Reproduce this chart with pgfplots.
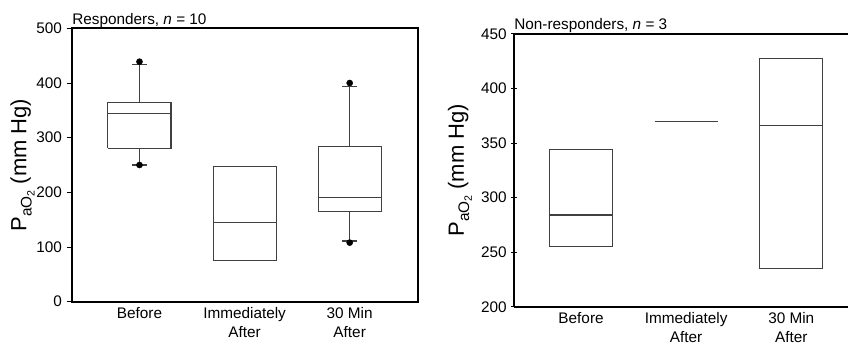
\documentclass[border=0pt]{standalone}
\usepackage{pgfplots}
\pgfplotsset{compat=1.18}
\usepackage{fontspec}
\setmainfont{Liberation Sans}
\definecolor{boxgray}{HTML}{404040}
\newcommand{\pao}{P\raisebox{-0.45ex}{\fontsize{11.5}{11.5}\selectfont aO\raisebox{-0.35ex}{\fontsize{8}{8}\selectfont 2}}}
\begin{document}
\begin{tikzpicture}
\useasboundingbox (0,0) rectangle (636pt,257.25pt);
\pgfplotsset{
  mystyle/.style={
    scale only axis,
    anchor=south west,
    /pgf/number format/assume math mode=true,
    font=\fontsize{11.5}{14.25}\selectfont,
    ticklabel style={font=\fontsize{11.5}{14.25}\selectfont},
    xtick={1,2,3},
    xticklabels={Before, Immediately\\After, 30 Min\\After},
    xticklabel style={align=center, yshift=3pt},
    x tick style={draw=none},
    y tick style={line width=0.6pt, black},
    ytick pos=left,
    tick align=outside,
    major tick length=4pt,
    axis line style={line width=1.4pt, black},
    ylabel={\pao\ (mm Hg)},
    ylabel style={font=\fontsize{16.5}{16.5}\selectfont},
    clip=false,
  },
  bx/.style={draw=boxgray, line width=0.8pt, solid, mark=none},
}
% Left panel
\begin{axis}[mystyle,
  at={(54pt,31pt)}, width=259.5pt, height=205pt,
  xmin=0.358, xmax=3.65, ymin=0, ymax=500,
  ytick={0,100,200,300,400,500},
  ylabel style={yshift=-5.5pt},
]
% Before
\addplot[bx] coordinates {(0.7,281) (1.3,281) (1.3,365) (0.7,365) (0.7,281)};
\addplot[bx] coordinates {(0.7,344) (1.3,344)};
\addplot[bx] coordinates {(1,281) (1,250)};
\addplot[bx] coordinates {(1,365) (1,434)};
\addplot[bx] coordinates {(0.93,250) (1.07,250)};
\addplot[bx] coordinates {(0.93,434) (1.07,434)};
% Immediately after
\addplot[bx] coordinates {(1.7,76) (2.3,76) (2.3,248) (1.7,248) (1.7,76)};
\addplot[bx] coordinates {(1.7,145) (2.3,145)};
% 30 min after
\addplot[bx] coordinates {(2.7,165) (3.3,165) (3.3,283) (2.7,283) (2.7,165)};
\addplot[bx] coordinates {(2.7,190) (3.3,190)};
\addplot[bx] coordinates {(3,165) (3,111)};
\addplot[bx] coordinates {(3,283) (3,394)};
\addplot[bx] coordinates {(2.93,111) (3.07,111)};
\addplot[bx] coordinates {(2.93,394) (3.07,394)};
% outliers
\addplot[only marks, mark=*, mark size=2.25pt, black] coordinates {(1,439) (1,250) (3,400) (3,108)};
\node[anchor=base west, inner sep=0pt, yshift=3pt, font=\fontsize{11.5}{12}\selectfont] at (rel axis cs:0,1) {Responders, \textit{n} = 10};
\end{axis}
% Right panel
\begin{axis}[mystyle,
  at={(385.5pt,27.2pt)}, width=250.5pt, height=204.75pt,
  xmin=0.362, xmax=3.54, ymin=200, ymax=450,
  ytick={200,250,300,350,400,450},
  axis x line=box, axis y line=left,
  x axis line style={-}, y axis line style={-},
  ylabel style={yshift=0pt},
]
\addplot[bx] coordinates {(0.7,255) (1.3,255) (1.3,344) (0.7,344) (0.7,255)};
\addplot[bx] coordinates {(0.7,284) (1.3,284)};
\addplot[bx] coordinates {(1.7,370) (2.3,370)};
\addplot[bx] coordinates {(2.7,235) (3.3,235) (3.3,427) (2.7,427) (2.7,235)};
\addplot[bx] coordinates {(2.7,366) (3.3,366)};
\node[anchor=base west, inner sep=0pt, yshift=3pt, font=\fontsize{11.5}{12}\selectfont] at (rel axis cs:0,1) {Non-responders, \textit{n} = 3};
\end{axis}
\end{tikzpicture}
\end{document}
